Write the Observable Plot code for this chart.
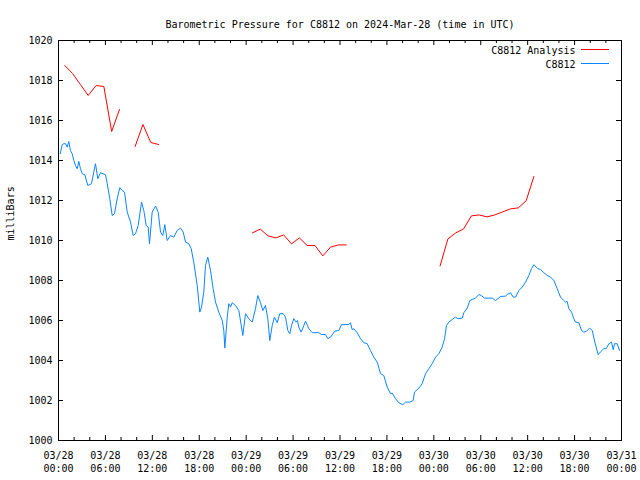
<!DOCTYPE html>
<html>
<head>
<meta charset="utf-8">
<script src="https://cdn.jsdelivr.net/npm/d3@7"></script>
<script src="https://cdn.jsdelivr.net/npm/@observablehq/plot@0.6"></script>
<style>
  html, body { margin: 0; padding: 0; background: #ffffff; }
</style>
</head>
<body>
<div id="chart"></div>
<script>
// ---- Data (hours since 2024-03-28 00:00 UTC) ----
const titleText = "Barometric Pressure for C8812 on 2024-Mar-28 (time in UTC)";
const yLabelText = "milliBars";
const seriesNames = ["C8812 Analysis", "C8812"];
const seriesColors = ["#ff0000", "#0a84ff"];

const blueHours = [
  0.22,0.47,0.68,0.90,1.11,1.32,1.53,1.75,1.96,2.17,2.39,2.60,2.81,3.03,3.36,3.75,4.22,4.51,4.73,5.03,
  5.37,6.01,6.23,6.56,6.87,7.16,7.51,7.84,8.15,8.44,8.79,9.21,9.55,9.85,10.19,10.62,10.91,11.22,11.47,11.64,
  11.98,12.41,12.75,13.05,13.34,13.60,13.90,14.32,14.75,15.18,15.60,15.95,16.24,16.66,16.97,17.30,17.74,18.07,18.29,18.58,
  18.80,19.09,19.44,19.78,20.08,20.50,20.94,21.14,21.27,21.58,21.78,22.00,22.22,22.64,23.06,23.37,23.57,23.92,24.34,24.77,
  25.19,25.49,25.83,26.13,26.47,26.77,27.02,27.33,27.62,27.97,28.30,28.74,29.03,29.33,29.58,29.80,30.09,30.40,30.57,30.73,
  31.04,31.30,31.59,32.01,32.45,33.29,33.64,34.15,34.44,34.79,35.34,35.85,36.19,37.13,37.34,37.56,37.77,38.20,38.62,39.05,
  39.48,39.90,40.32,40.76,41.18,41.60,42.04,42.46,42.68,43.10,43.52,44.03,44.38,44.93,45.36,45.53,46.08,46.51,46.94,47.36,
  47.79,48.22,48.64,49.07,49.37,49.62,49.92,50.35,50.77,51.07,51.63,51.84,52.27,52.60,52.91,53.33,53.75,54.06,54.48,55.47,
  55.89,56.53,57.17,57.38,57.81,58.15,58.45,58.87,59.30,59.73,60.15,60.49,60.79,61.30,61.64,62.07,62.50,62.92,63.35,63.78,
  64.20,64.62,64.84,65.06,65.26,65.61,65.90,66.12,66.54,66.89,67.18,67.49,67.91,68.26,68.59,69.02,69.36,69.74,70.05,70.38,
  70.72,70.94,71.11,71.45,71.75
];
const bluePressure = [
  1014.34,1014.79,1014.84,1014.84,1014.67,1014.95,1014.50,1014.34,1014.00,1013.75,1013.59,1013.95,1013.59,1013.34,1013.29,1012.75,1012.84,1013.42,1013.84,1013.09,
  1013.39,1013.29,1012.84,1012.09,1011.25,1011.34,1012.09,1012.64,1012.50,1012.42,1011.42,1010.92,1010.25,1010.34,1010.75,1011.92,1011.50,1010.75,1010.67,1009.84,
  1011.42,1011.72,1011.42,1010.42,1010.25,1010.79,1010.00,1010.25,1010.17,1010.50,1010.62,1010.42,1009.92,1009.84,1009.59,1008.92,1007.75,1006.42,1006.67,1007.42,
  1008.75,1009.17,1008.50,1007.59,1006.92,1006.42,1006.00,1005.50,1004.62,1006.17,1006.84,1006.67,1006.89,1006.75,1006.50,1005.75,1005.25,1006.34,1006.09,1005.92,
  1006.59,1007.25,1006.89,1006.50,1006.75,1006.09,1005.00,1005.75,1006.17,1005.89,1006.34,1006.34,1006.17,1005.50,1005.34,1005.75,1006.09,1005.92,1006.00,1005.67,
  1005.42,1005.67,1005.97,1005.59,1005.39,1005.39,1005.30,1005.30,1005.09,1005.17,1005.47,1005.50,1005.79,1005.80,1005.89,1005.54,1005.59,1005.39,1005.09,1004.89,
  1004.84,1004.50,1004.17,1003.92,1003.34,1003.25,1002.67,1002.34,1002.37,1002.09,1001.89,1001.79,1001.92,1001.92,1002.00,1002.42,1002.62,1002.84,1003.34,1003.59,
  1003.84,1004.17,1004.34,1004.67,1005.09,1005.75,1005.92,1006.05,1006.17,1006.09,1006.12,1006.39,1006.62,1007.00,1007.05,1007.12,1007.30,1007.25,1007.12,1007.12,
  1007.00,1007.20,1007.22,1007.30,1007.39,1007.17,1007.17,1007.50,1007.67,1007.92,1008.25,1008.59,1008.79,1008.59,1008.55,1008.39,1008.25,1008.17,1008.00,1007.59,
  1007.17,1007.00,1006.92,1006.95,1006.59,1006.42,1006.09,1005.92,1005.89,1005.50,1005.42,1005.45,1005.62,1005.50,1004.92,1004.29,1004.45,1004.59,1004.59,1004.84,
  1004.92,1004.54,1004.84,1004.84,1004.50
];

// null marks a gap in the analysis series
const redHours = [
  0.8,1.8,2.8,3.8,4.8,5.8,6.8,7.8, 8.8,
  9.8,10.8,11.8,12.8, 13.8,
  24.8,25.8,26.8,27.8,28.8,29.8,30.8,31.8,32.8,33.8,34.8,35.8,36.8, 37.8,
  48.8,49.8,50.8,51.8,52.8,53.8,54.8,55.8,56.8,57.8,58.8,59.8,60.8
];
const redPressure = [
  1018.75,1018.35,1017.8,1017.25,1017.75,1017.7,1015.45,1016.55, null,
  1014.7,1015.8,1014.9,1014.8, null,
  1010.38,1010.57,1010.23,1010.13,1010.28,1009.83,1010.13,1009.75,1009.75,1009.23,1009.67,1009.78,1009.78, null,
  1008.73,1010.08,1010.38,1010.58,1011.23,1011.28,1011.18,1011.28,1011.43,1011.58,1011.63,1011.98,1013.2
];

const yTickValues = [1000,1002,1004,1006,1008,1010,1012,1014,1016,1018,1020];
const xStart = new Date(Date.UTC(2024, 2, 28, 0));
const xEnd = new Date(Date.UTC(2024, 2, 31, 0));

// ---- Build tables ----
const toDate = h => new Date(xStart.getTime() + h * 3600e3);
const blue = blueHours.map((h, i) => ({t: toDate(h), p: bluePressure[i]}));
const red = redHours.map((h, i) => ({t: toDate(h), p: redPressure[i]}));
const majorX = d3.utcHour.every(6).range(xStart, new Date(xEnd.getTime() + 1));
const minorX = d3.utcHour.every(2).range(xStart, new Date(xEnd.getTime() + 1)).filter(d => d.getUTCHours() % 6 !== 0);

const W = 640, H = 480, mT = 40, mR = 19, mB = 40, mL = 58;
const innerW = W - mL - mR, innerH = H - mT - mB;
const font = "DejaVu Sans Mono";

const svg = Plot.plot({
  width: W, height: H,
  marginTop: mT, marginRight: mR, marginBottom: mB, marginLeft: mL,
  style: {fontFamily: font, fontSize: "10px", background: "#ffffff", color: "#000000"},
  x: {type: "utc", domain: [xStart, xEnd], label: null},
  y: {domain: [1000, 1020], label: null},
  marks: [
    Plot.lineY(red, {x: "t", y: "p", stroke: seriesColors[0], strokeWidth: 1}),
    Plot.lineY(blue, {x: "t", y: "p", stroke: seriesColors[1], strokeWidth: 1}),
    Plot.frame({stroke: "#000000", strokeWidth: 1}),
    // inward ticks (bottom/top, left/right)
    Plot.tickX(majorX, {x: d => d, insetTop: innerH - 5, stroke: "#000"}),
    Plot.tickX(majorX, {x: d => d, insetBottom: innerH - 5, stroke: "#000"}),
    Plot.tickX(minorX, {x: d => d, insetTop: innerH - 3, stroke: "#000"}),
    Plot.tickX(minorX, {x: d => d, insetBottom: innerH - 3, stroke: "#000"}),
    Plot.tickY(yTickValues, {y: d => d, insetRight: innerW - 5, stroke: "#000"}),
    Plot.tickY(yTickValues, {y: d => d, insetLeft: innerW - 5, stroke: "#000"}),
    Plot.axisX({ticks: majorX, tickSize: 0, tickPadding: 10, lineHeight: 1.25,
      tickFormat: d3.utcFormat("%m/%d\n%H:%M"), fontSize: 10, fill: "#000"}),
    Plot.axisY({ticks: yTickValues, tickSize: 0, tickPadding: 6, tickFormat: d => String(d), fontSize: 10, fill: "#000"}),
    Plot.text([titleText], {frameAnchor: "top", dy: -20, fontSize: 10, fill: "#000"}),
    Plot.text([yLabelText], {frameAnchor: "left", dx: -48, rotate: -90, fontSize: 10, fill: "#000"}),
    Plot.text([seriesNames[0]], {frameAnchor: "top-right", dx: -46, dy: 10, textAnchor: "end", lineAnchor: "middle", fontSize: 10, fill: "#000"}),
    Plot.text([seriesNames[1]], {frameAnchor: "top-right", dx: -46, dy: 24, textAnchor: "end", lineAnchor: "middle", fontSize: 10, fill: "#000"})
  ]
});

// legend line samples
const lg = d3.select(svg).append("g");
[0, 1].forEach(i => {
  lg.append("line")
    .attr("x1", W - mR - 40).attr("x2", W - mR - 12)
    .attr("y1", mT + 9.5 + i * 14).attr("y2", mT + 9.5 + i * 14)
    .attr("stroke", seriesColors[i]).attr("stroke-width", 1);
});

document.getElementById("chart").appendChild(svg);
</script>
</body>
</html>
